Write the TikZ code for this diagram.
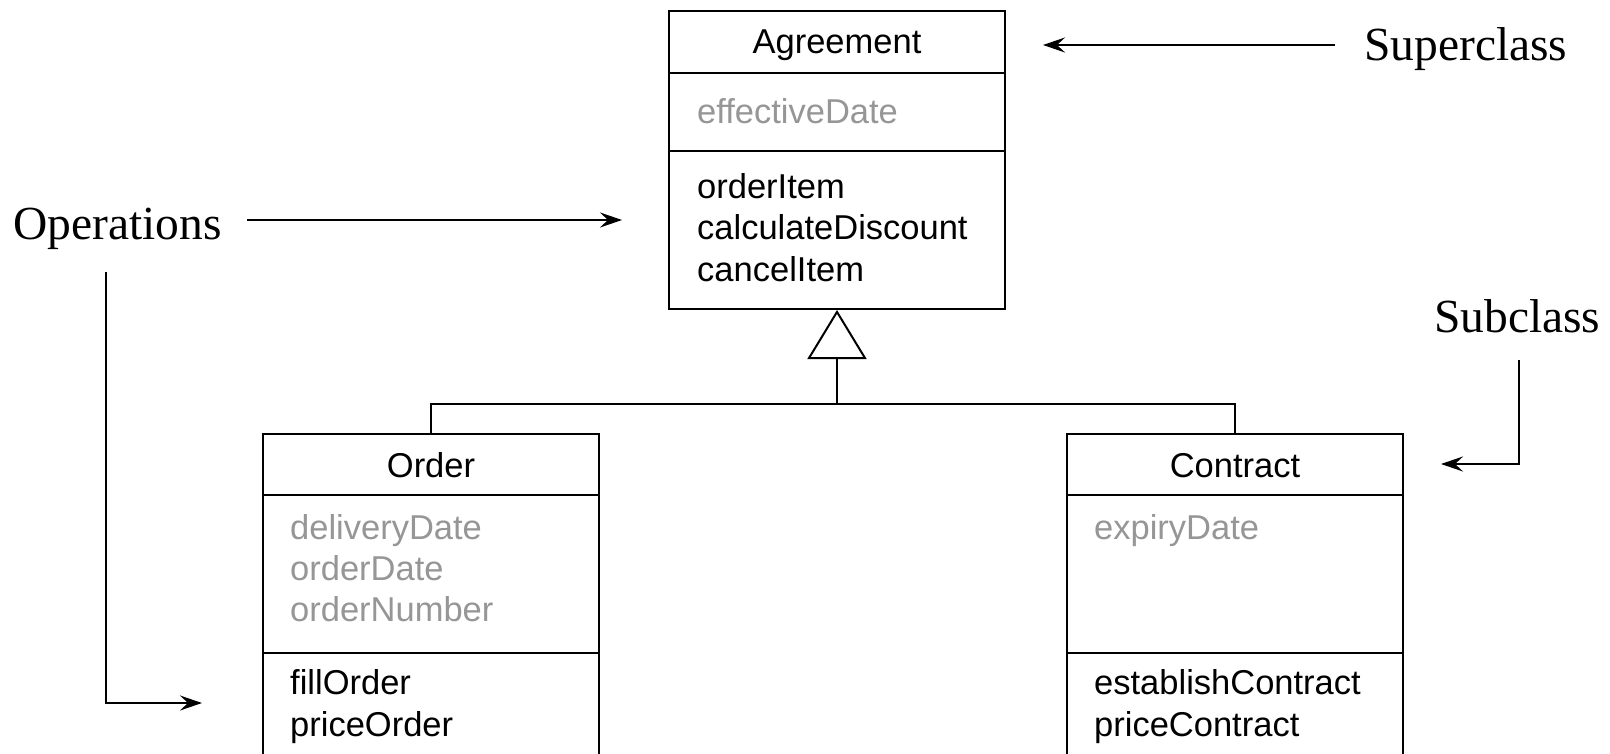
\documentclass[tikz,border=0pt]{standalone}
\usepackage{fontspec}
\setmainfont{Liberation Serif}
\newfontfamily\umlsans{Liberation Sans}
\usetikzlibrary{arrows.meta}
\definecolor{attrgray}{RGB}{150,150,150}
\begin{document}
\begin{tikzpicture}[x=1pt,y=-1pt,
  compartment/.style={draw, line width=2pt, minimum width=336pt, inner sep=0pt, anchor=north west},
  classname/.style={font=\umlsans\fontsize{34.5pt}{41.5pt}\selectfont, anchor=base, inner sep=0pt},
  member/.style={font=\umlsans\fontsize{34.5pt}{41.5pt}\selectfont, anchor=base west, inner sep=0pt},
  attribute/.style={member, text=attrgray},
  note/.style={font=\fontsize{47.5pt}{57pt}\selectfont, anchor=base west, inner sep=0pt},
  pointer/.style={line width=2.2pt, -{Stealth[length=22pt,width=15pt,inset=8pt]}},
  generalization/.style={line width=2pt, -{Triangle[open,length=49pt,width=59pt]}}
]
\useasboundingbox (0,0) rectangle (1610,754);
\clip (0,0) rectangle (1610,754);

% ---- Agreement (superclass)
\node[compartment, minimum height=62pt]  (agT) at (668,10)  {};
\node[compartment, minimum height=78pt]  (agA) at (668,72)  {};
\node[compartment, minimum height=158pt] (agO) at (668,150) {};
\node[classname] (agName) at ([yshift=-44pt]agT.north) {Agreement};
\node[attribute] (agAttr0) at ([shift={(29,51.5)}]agA.north west) {effectiveDate};
\foreach \t [count=\i from 0] in {orderItem,calculateDiscount,cancelItem}
  \node[member] (agOp\i) at ([shift={(29,48.5+41.5*\i)}]agO.north west) {\t};

% ---- Order (subclass)
\node[compartment, minimum height=61pt]  (orT) at (262,433) {};
\node[compartment, minimum height=158pt] (orA) at (262,494) {};
\node[compartment, minimum height=150pt] (orO) at (262,652) {};
\node[classname] (orName) at ([yshift=-44.5pt]orT.north) {Order};
\foreach \t [count=\i from 0] in {deliveryDate,orderDate,orderNumber}
  \node[attribute] (orAttr\i) at ([shift={(28,45.5+41*\i)}]orA.north west) {\t};
\foreach \t [count=\i from 0] in {fillOrder,priceOrder}
  \node[member] (orOp\i) at ([shift={(28,42.5+42*\i)}]orO.north west) {\t};

% ---- Contract (subclass)
\node[compartment, minimum height=61pt]  (coT) at (1066,433) {};
\node[compartment, minimum height=158pt] (coA) at (1066,494) {};
\node[compartment, minimum height=150pt] (coO) at (1066,652) {};
\node[classname] (coName) at ([yshift=-44.5pt]coT.north) {Contract};
\node[attribute] (coAttr0) at ([shift={(28,45.5)}]coA.north west) {expiryDate};
\foreach \t [count=\i from 0] in {establishContract,priceContract}
  \node[member] (coOp\i) at ([shift={(28,42.5+42*\i)}]coO.north west) {\t};

% ---- generalization tree
\coordinate (join) at (agO.south |- 0,404);
\draw[line width=2pt] (orT.north) |- (join) -| (coT.north);
\draw[generalization] (join) -- (agO.south);

% ---- annotations
\node[note] (superLbl) at (1364,61)  {Superclass};
\node[note] (opsLbl)   at (13,239.5) {Operations};
\node[note] (subLbl)   at (1434,332) {Subclass};

\coordinate (supFrom) at (1335,45);
\coordinate (supTo)   at (1043,45);
\draw[pointer] (supFrom) -- (supTo);

\coordinate (opsFrom) at (247,220);
\coordinate (opsTo)   at (622,220);
\draw[pointer] (opsFrom) -- (opsTo);

\coordinate (opsDown) at (106,272);
\coordinate (opsLow)  at (202,703);
\draw[pointer] (opsDown) |- (opsLow);

\coordinate (subDown) at (1519,360);
\coordinate (subTo)   at (1441,464);
\draw[pointer] (subDown) |- (subTo);
\end{tikzpicture}
\end{document}
